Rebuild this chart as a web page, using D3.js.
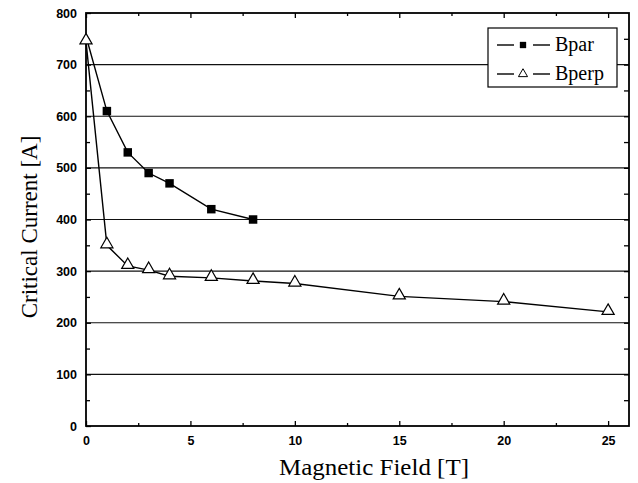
<!DOCTYPE html>
<html><head><meta charset="utf-8">
<script src="https://cdn.jsdelivr.net/npm/d3@7"></script>
<style>body{margin:0;background:#fff}svg{display:block}</style>
</head><body><svg id="c" width="638" height="483"></svg>
<script>
const bparX = [0, 1, 2, 3, 4, 6, 8];
const bparY = [755, 610, 530, 490, 470, 420, 400];
const bperpX = [0, 1, 2, 3, 4, 6, 8, 10, 15, 20, 25];
const bperpY = [745, 350, 310, 302, 290, 287, 281, 276, 251, 241, 221];
const xTicks = [0, 5, 10, 15, 20, 25];
const yTicks = [0, 100, 200, 300, 400, 500, 600, 700, 800];
const seriesNames = ["Bpar", "Bperp"];

const svg = d3.select("#c");
const L = 86, R = 629, T = 13, B = 426;
const x = d3.scaleLinear().domain([0, 26]).range([L, R]);
const y = d3.scaleLinear().domain([0, 800]).range([B, T]);

// gridlines
svg.append("g").selectAll("line").data(yTicks.slice(1, -1)).join("line")
  .attr("x1", L).attr("x2", R).attr("y1", d => y(d)).attr("y2", d => y(d))
  .attr("stroke", "#111").attr("stroke-width", 1.2);

const tickFont = g => g.selectAll("text")
  .attr("font-family", "Liberation Sans, Arial, sans-serif")
  .attr("font-weight", "bold").attr("font-size", 12.5).attr("fill", "#000");

// bottom axis
const xAx = svg.append("g").attr("transform", `translate(0,${B})`)
  .call(d3.axisBottom(x).tickValues(xTicks).tickSize(-5).tickPadding(10).tickFormat(d3.format("d")));
xAx.call(tickFont);
xAx.select(".domain").remove();
svg.append("g").attr("transform", `translate(0,${B})`)
  .call(d3.axisBottom(x).tickValues(d3.range(2.5, 26, 5)).tickSize(-3).tickFormat(""))
  .select(".domain").remove();
// top axis
svg.append("g").attr("transform", `translate(0,${T})`)
  .call(d3.axisTop(x).tickValues(xTicks).tickSize(-5).tickFormat(""))
  .select(".domain").remove();
svg.append("g").attr("transform", `translate(0,${T})`)
  .call(d3.axisTop(x).tickValues(d3.range(2.5, 26, 5)).tickSize(-3).tickFormat(""))
  .select(".domain").remove();
// left axis
const yAx = svg.append("g").attr("transform", `translate(${L},0)`)
  .call(d3.axisLeft(y).tickValues(yTicks).tickSize(-5).tickPadding(9).tickFormat(d3.format("d")));
yAx.call(tickFont);
yAx.select(".domain").remove();
svg.append("g").attr("transform", `translate(${L},0)`)
  .call(d3.axisLeft(y).tickValues(d3.range(50, 800, 100)).tickSize(-4).tickFormat(""))
  .select(".domain").remove();
// right axis
svg.append("g").attr("transform", `translate(${R},0)`)
  .call(d3.axisRight(y).tickValues(d3.range(50, 800, 50)).tickSize(-5).tickFormat(""))
  .select(".domain").remove();

svg.selectAll(".tick line").attr("stroke", "#000").attr("stroke-width", 1.3);

// frame
svg.append("rect").attr("x", L).attr("y", T).attr("width", R - L).attr("height", B - T)
  .attr("fill", "none").attr("stroke", "#000").attr("stroke-width", 1.8);

// lines
const line = d3.line().x(d => x(d[0])).y(d => y(d[1]));
const bpar = bparX.map((v, i) => [v, bparY[i]]);
const bperp = bperpX.map((v, i) => [v, bperpY[i]]);
svg.append("path").datum(bpar).attr("d", line).attr("fill", "none").attr("stroke", "#000").attr("stroke-width", 1.4);
svg.append("path").datum(bperp).attr("d", line).attr("fill", "none").attr("stroke", "#000").attr("stroke-width", 1.4);

const sq = d3.symbol().type(d3.symbolSquare).size(72);
const tri = d3.symbol().type(d3.symbolTriangle).size(64);
svg.append("g").selectAll("path").data(bpar.slice(1)).join("path")
  .attr("d", sq).attr("transform", d => `translate(${x(d[0])},${y(d[1])})`).attr("fill", "#000");
svg.append("g").selectAll("path").data(bperp).join("path")
  .attr("d", tri).attr("transform", d => `translate(${x(d[0])},${y(d[1]) - 1})`)
  .attr("fill", "#fff").attr("stroke", "#000").attr("stroke-width", 1.2);

// legend
const lg = svg.append("g");
lg.append("rect").attr("x", 488).attr("y", 28).attr("width", 129).attr("height", 59)
  .attr("fill", "#fff").attr("stroke", "#000").attr("stroke-width", 1.2);
const rows = [45, 74];
rows.forEach((ry, i) => {
  lg.append("line").attr("x1", 497).attr("x2", 514).attr("y1", ry).attr("y2", ry).attr("stroke", "#000").attr("stroke-width", 1.4);
  lg.append("line").attr("x1", 533).attr("x2", 550).attr("y1", ry).attr("y2", ry).attr("stroke", "#000").attr("stroke-width", 1.4);
  if (i === 0) lg.append("path").attr("d", d3.symbol().type(d3.symbolSquare).size(40)).attr("transform", `translate(523,${ry})`).attr("fill", "#000");
  else lg.append("path").attr("d", d3.symbol().type(d3.symbolTriangle).size(36)).attr("transform", `translate(523,${ry})`).attr("fill", "#fff").attr("stroke", "#000").attr("stroke-width", 1);
  lg.append("text").attr("x", 555).attr("y", ry + 6).text(seriesNames[i])
    .attr("font-family", "Liberation Serif, Times New Roman, serif").attr("font-size", 20).attr("fill", "#000");
});

// axis titles
svg.append("text").attr("x", 374).attr("y", 475).attr("text-anchor", "middle").attr("fill", "#000")
  .attr("font-family", "Liberation Serif, Times New Roman, serif").attr("font-size", 23)
  .attr("textLength", 190).attr("lengthAdjust", "spacingAndGlyphs").text("Magnetic Field [T]");
svg.append("text").attr("transform", "translate(37,227) rotate(-90)").attr("text-anchor", "middle").attr("fill", "#000")
  .attr("font-family", "Liberation Serif, Times New Roman, serif").attr("font-size", 23).text("Critical Current [A]");
</script></body></html>
